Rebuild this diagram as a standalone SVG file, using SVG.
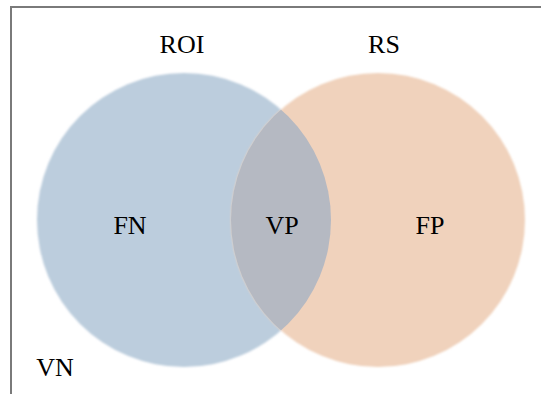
<svg xmlns="http://www.w3.org/2000/svg" width="541" height="394" viewBox="0 0 541 394">
<style>
.lbl{font-family:"Liberation Serif","Times New Roman",serif;font-size:26px;fill:#000;text-anchor:middle}
</style>
<defs>
<filter id="soft" x="-10%" y="-10%" width="120%" height="120%"><feGaussianBlur stdDeviation="0.8"/></filter>
<clipPath id="clipL"><circle cx="184" cy="220" r="147"/></clipPath>
</defs>
<rect x="0" y="0" width="541" height="394" fill="#fff"/>
<rect x="11" y="7" width="560" height="420" fill="none" stroke="#7a7a7a" stroke-width="2"/>
<g id="roi">
<circle cx="184" cy="220" r="147" fill="#bccddd" filter="url(#soft)"/>
</g>
<g id="rs">
<circle cx="378" cy="220" r="147" fill="#f0d2bc" filter="url(#soft)"/>
</g>
<g id="overlap">
<circle cx="378" cy="220" r="147" fill="#b5b9c2" clip-path="url(#clipL)"/>
</g>
<g id="labels">
<text class="lbl" x="182" y="53">ROI</text>
<text class="lbl" x="384" y="53">RS</text>
<text class="lbl" x="130" y="234">FN</text>
<text class="lbl" x="282" y="234">VP</text>
<text class="lbl" x="430" y="234">FP</text>
<text class="lbl" x="55" y="376">VN</text>
</g>
</svg>
